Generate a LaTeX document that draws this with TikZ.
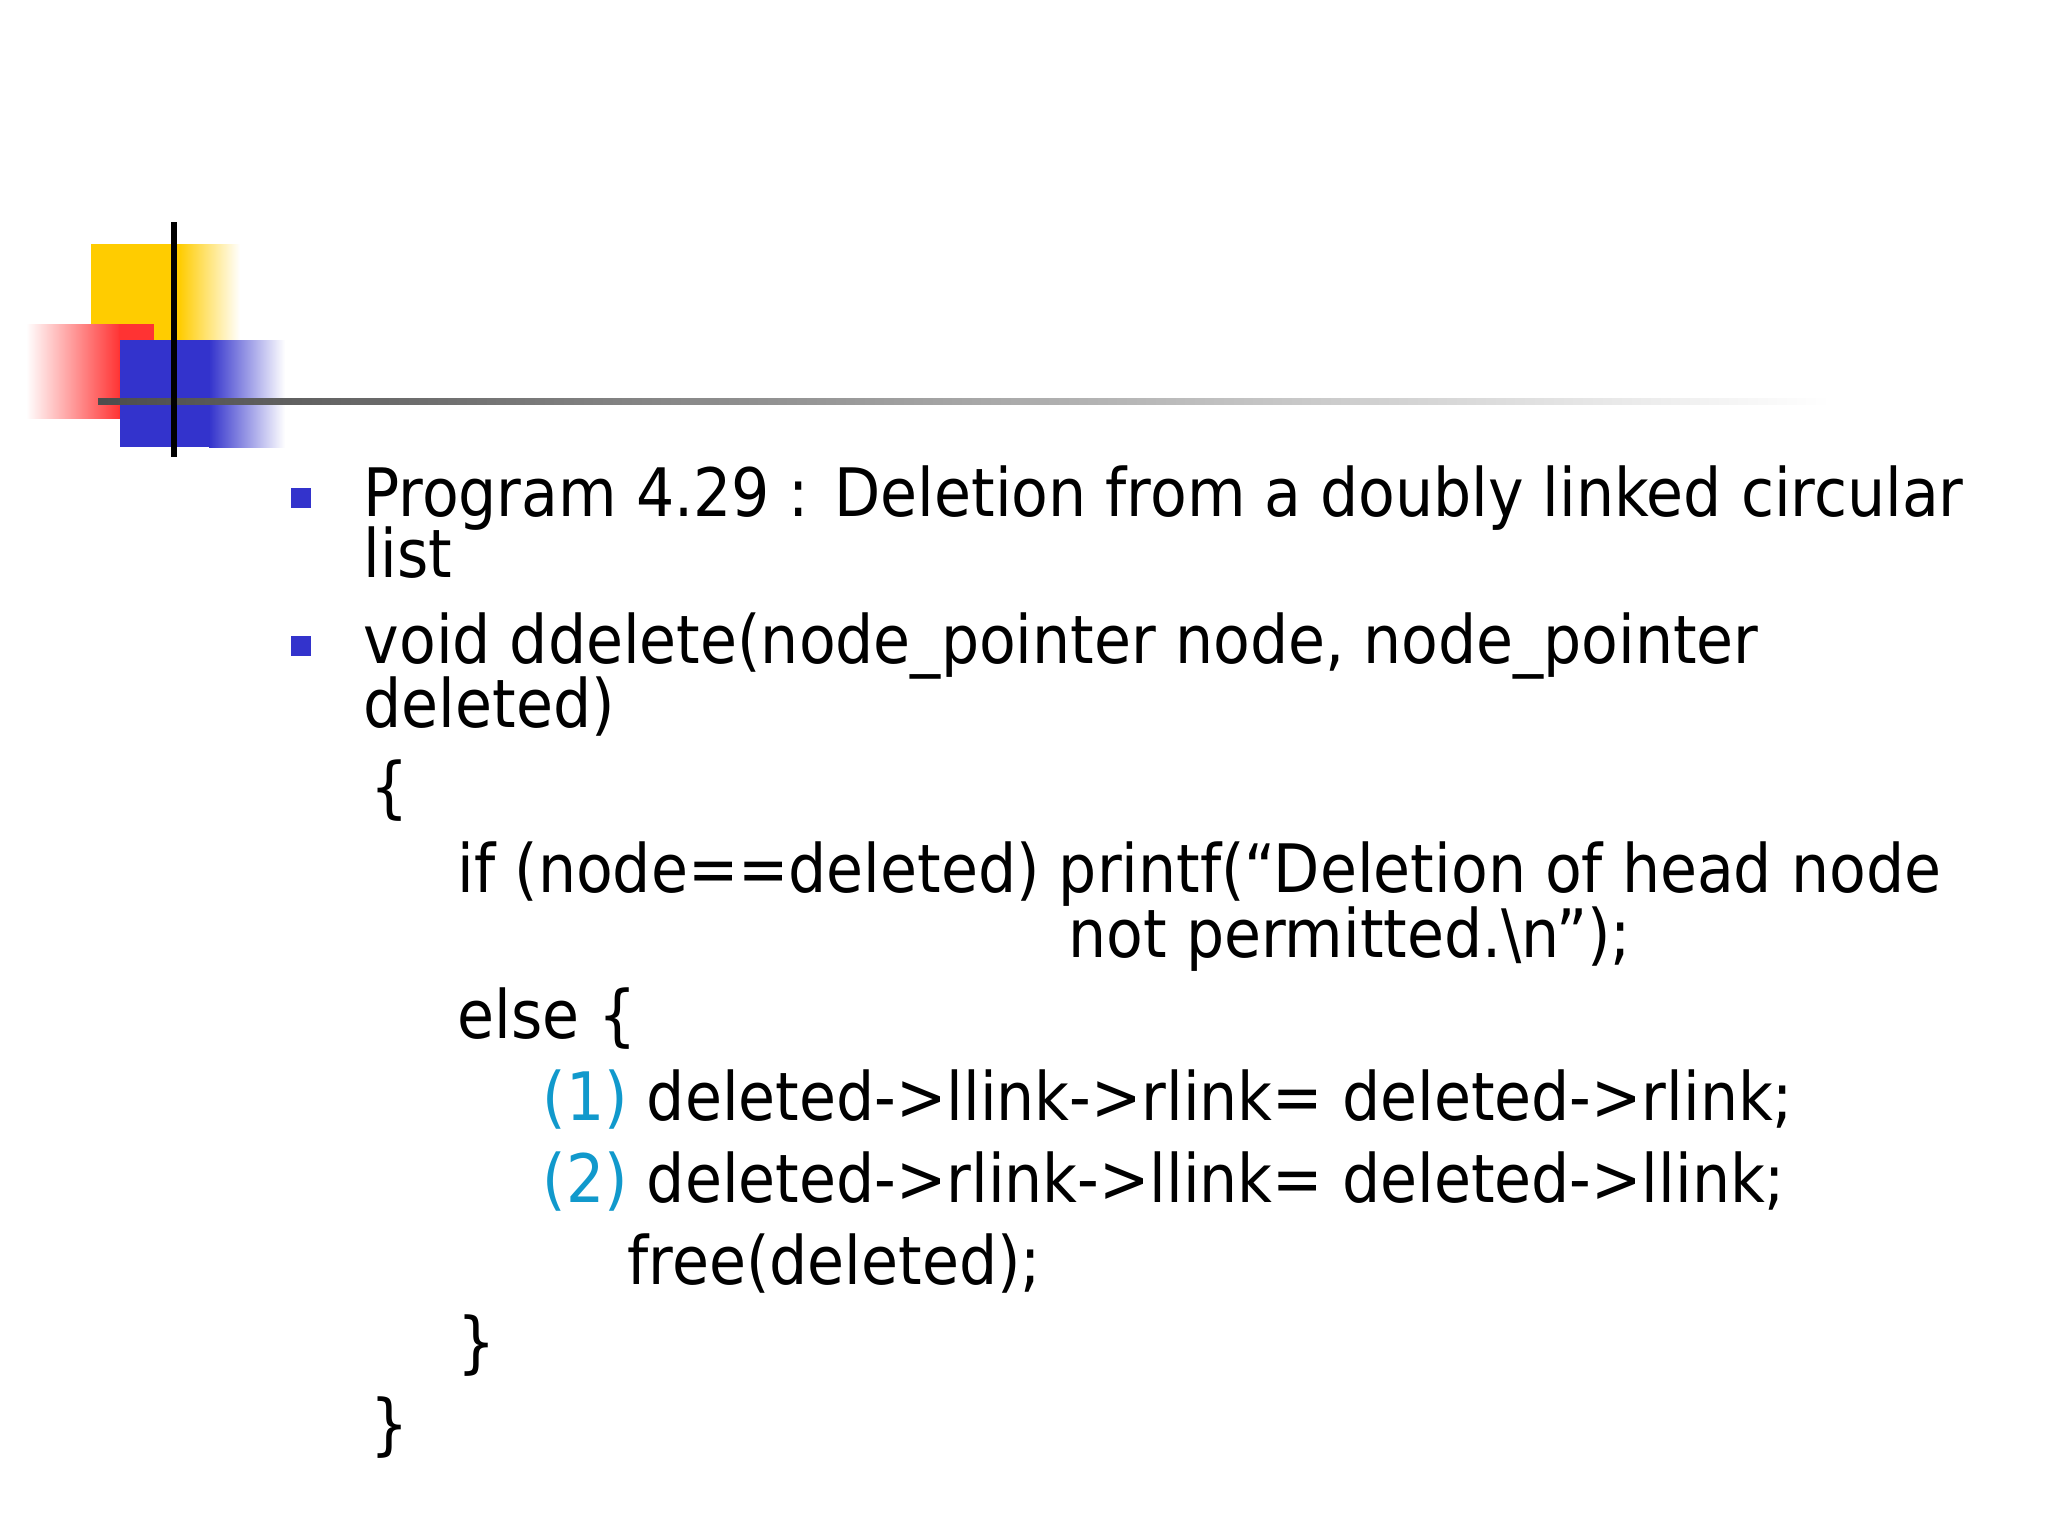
\documentclass[tikz,border=0pt]{standalone}
\usepackage{fontspec}
\setmainfont{DejaVu Sans Condensed}
\definecolor{bul}{HTML}{3333CC}
\definecolor{num}{HTML}{1199CC}
\definecolor{yel}{HTML}{FFCC00}
\definecolor{redd}{HTML}{FF3333}
\begin{document}
\begin{tikzpicture}[x=0.01cm,y=-0.01cm,
  txt/.style={anchor=base west,inner sep=0pt,font=\fontsize{19}{23}\selectfont},
  bullet/.style={fill=bul,inner sep=0pt,minimum size=0.2cm}]
\useasboundingbox (0,0) rectangle (2048,1536);
\fill[white] (0,0) rectangle (2048,1536);
% decoration
\fill[yel] (91,244) rectangle (180,379);
\shade[left color=yel,right color=white] (179,244) rectangle (240,379);
\shade[left color=white,right color=redd] (26,324) rectangle (120,418);
\fill[redd] (119,324) rectangle (154,418);
\fill[bul] (120,340) rectangle (210,447);
\shade[left color=bul,right color=white] (209,340) rectangle (285,447);
\shade[left color=black!70,right color=white] (98,398) rectangle (1830,404);
\fill[black] (171,222) rectangle (177,457);
% bullets
\node[bullet] (b1) at (301,498) {};
\node[bullet] (b2) at (301,646) {};
% text
\node[txt] (l1) at (363,516) {Program 4.29 : Deletion from a doubly linked circular};
\node[txt] (l2) at (363,577) {list};
\node[txt] (l3) at (363,663) {void ddelete(node\_pointer node, node\_pointer};
\node[txt] (l4) at (363,727) {deleted)};
\node[txt] (l5) at (370,810) {\{};
\node[txt] (l6) at (457,892) {if (node==deleted) printf(“Deletion of head node};
\node[txt] (l7) at (1068,957) {not permitted.\textbackslash n”);};
\node[txt] (l8) at (457,1038) {else \{};
\node[txt] (l9) at (542,1120) {\textcolor{num}{(1)} deleted->llink->rlink= deleted->rlink;};
\node[txt] (l10) at (542,1202) {\textcolor{num}{(2)} deleted->rlink->llink= deleted->llink;};
\node[txt] (l11) at (627,1284) {free(deleted);};
\node[txt] (l12) at (457,1365) {\}};
\node[txt] (l13) at (370,1447) {\}};
\end{tikzpicture}
\end{document}
